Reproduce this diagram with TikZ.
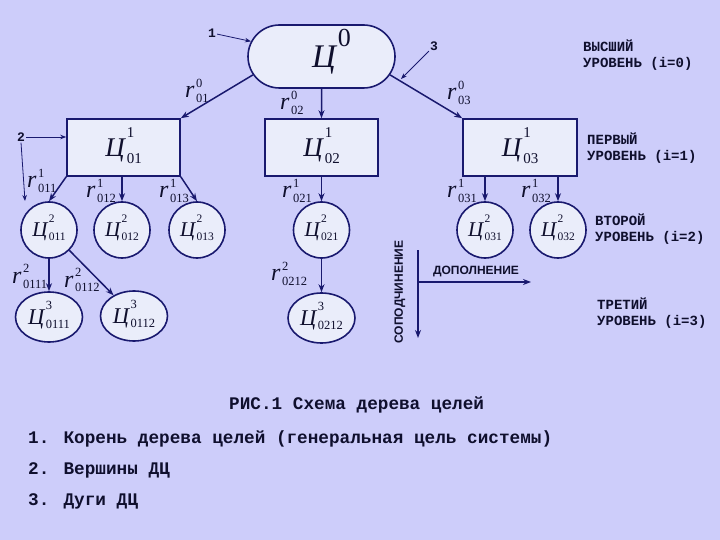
\documentclass[tikz,border=0pt]{standalone}
\usepackage{fontspec}
\setmainfont{Liberation Serif}
\newfontfamily\mono{Liberation Mono}
\newfontfamily\arialf{Liberation Sans}
\usetikzlibrary{shapes.misc,shapes.geometric,arrows.meta}
\definecolor{bg}{RGB}{205,205,250}
\definecolor{nodefill}{RGB}{234,237,250}
\definecolor{navy}{RGB}{25,25,110}
\definecolor{ink}{RGB}{15,15,45}
% goal labels
\newcommand\Gz{\mbox{\hspace*{20pt}\raisebox{0pt}[\height][0pt]{\fontsize{33}{33}\selectfont\itshape Ц}\kern2pt\raisebox{21pt}[0pt][0pt]{\fontsize{26}{26}\selectfont 0}}}
\newcommand\Go[2]{\mbox{\raisebox{0pt}[\height][0pt]{\fontsize{27}{27}\selectfont\itshape Ц}\kern2pt\fontsize{15}{15}\selectfont\rlap{\raisebox{19pt}[0pt][0pt]{#1}}\raisebox{-7pt}[0pt][0pt]{#2}}}
\newcommand\Gt[2]{\mbox{\raisebox{0pt}[\height][0pt]{\fontsize{21}{21}\selectfont\itshape Ц}\kern1.5pt\fontsize{11.5}{11.5}\selectfont\rlap{\raisebox{14pt}[0pt][0pt]{#1}}\raisebox{-4pt}[0pt][0pt]{#2}}}
\newcommand\Gh[2]{\mbox{\raisebox{0pt}[\height][0pt]{\fontsize{22.5}{22.5}\selectfont\itshape Ц}\kern1.5pt\fontsize{12.5}{12.5}\selectfont\rlap{\raisebox{15pt}[0pt][0pt]{#1}}\raisebox{-4.5pt}[0pt][0pt]{#2}}}
\newcommand\Rl[2]{\mbox{{\fontsize{24}{24}\selectfont\itshape r}\kern1.5pt\fontsize{12.5}{12.5}\selectfont\rlap{\raisebox{10pt}{#1}}\raisebox{-5pt}{#2}}}
\begin{document}
\begin{tikzpicture}[x=1pt,y=-1pt,
  arc/.style={draw=navy, line width=1.5pt, -{Stealth[length=8pt,width=6pt]}},
  thinarc/.style={draw=navy, line width=0.8pt, -{Stealth[length=6pt,width=4.5pt]}},
  shp/.style={draw=navy, line width=1.6pt, fill=nodefill, inner sep=0pt, text=ink},
  box/.style={shp, rectangle, minimum width=113pt, minimum height=57pt},
  circ/.style={shp, circle, minimum size=56pt},
  ell/.style={shp, ellipse, minimum width=67pt, minimum height=50pt},
  rlab/.style={anchor=base west, inner sep=0pt, text=ink},
  lvl/.style={font=\mono\bfseries\fontsize{14}{16.5}\selectfont, align=left, anchor=west, inner sep=0pt, text=ink},
  note/.style={font=\mono\bfseries\fontsize{13}{13}\selectfont, inner sep=1pt, text=ink},
  captext/.style={font=\mono\bfseries\fontsize{17.7}{17.7}\selectfont, anchor=base west, inner sep=0pt, text=ink},
  axislab/.style={font=\arialf\bfseries\fontsize{12}{12}\selectfont, inner sep=0pt, text=ink}
]
\fill[bg] (0,0) rectangle (720,540);
\useasboundingbox (0,0) rectangle (720,540);

% nodes
\node[shp, rounded rectangle, minimum width=147pt, minimum height=63pt] (root) at (321.5,56.5) {\Gz};
\node[box] (c01) at (123.5,147.5) {\Go{1}{01}};
\node[box] (c02) at (321.5,147.5) {\Go{1}{02}};
\node[box, minimum width=114pt] (c03) at (520,147.5) {\Go{1}{03}};

\node[circ] (c011) at (49,230) {\Gt{2}{011}};
\node[circ] (c012) at (122,230) {\Gt{2}{012}};
\node[circ] (c013) at (197,230) {\Gt{2}{013}};
\node[circ] (c021) at (321.5,230) {\Gt{2}{021}};
\node[circ] (c031) at (485,230) {\Gt{2}{031}};
\node[circ] (c032) at (558,230) {\Gt{2}{032}};

\node[ell] (c0111) at (49,317) {\Gh{3}{0111}};
\node[ell] (c0112) at (134,316) {\Gh{3}{0112}};
\node[ell] (c0212) at (321.5,318) {\Gh{3}{0212}};

% arcs
\draw[arc] (root.195) -- (c01.north east);
\draw[arc] (root) -- (c02);
\draw[arc] (root.-15) -- (c03.north west);

\draw[arc] (c01.south west) -- (c011.north);
\draw[arc] (c012.north |- c01.south) -- (c012.north);
\draw[arc] (c01.south east) -- (c013.north);
\draw[arc] (c02) -- (c021);
\draw[arc] (c031.north |- c03.south) -- (c031.north);
\draw[arc] (c032.north |- c03.south) -- (c032.north);

\draw[arc] (c011) -- (c0111);
\draw[arc] (c011.south east) -- (c0112);
\draw[arc] (c021) -- (c0212);

% arc labels
\node[rlab] (r01) at (185,98) {\Rl{0}{01}};
\node[rlab] (r02) at (280,110) {\Rl{0}{02}};
\node[rlab] (r03) at (447,100) {\Rl{0}{03}};
\node[rlab] (r011) at (27,188) {\Rl{1}{011}};
\node[rlab] (r012) at (86,198) {\Rl{1}{012}};
\node[rlab] (r013) at (159,198) {\Rl{1}{013}};
\node[rlab] (r021) at (282,198) {\Rl{1}{021}};
\node[rlab] (r031) at (447,198) {\Rl{1}{031}};
\node[rlab] (r032) at (521,198) {\Rl{1}{032}};
\node[rlab] (r0111) at (12,283) {\Rl{2}{0111}};
\node[rlab] (r0112) at (64,287) {\Rl{2}{0112}};
\node[rlab] (r0212) at (271,280) {\Rl{2}{0212}};

% annotations
\node[note] (n1) at (212,33) {1};
\node[note] (n2) at (21,137) {2};
\node[note] (n3) at (434,46) {3};
\coordinate (p2) at (25,201);
\coordinate (p3) at (401,79);
\draw[thinarc] (n1) -- (root);
\draw[thinarc] (n2) -- (n2 -| c01.west);
\draw[thinarc] (n2.south) -- (p2);
\draw[thinarc] (n3) -- (p3);

% level labels
\node[lvl] (L0) at (583,55) {ВЫСШИЙ\\УРОВЕНЬ (i=0)};
\node[lvl] (L1) at (587,148) {ПЕРВЫЙ\\УРОВЕНЬ (i=1)};
\node[lvl] (L2) at (595,229) {ВТОРОЙ\\УРОВЕНЬ (i=2)};
\node[lvl] (L3) at (597,313) {ТРЕТИЙ\\УРОВЕНЬ (i=3)};

% legend axes
\coordinate (vtop) at (418,250);
\coordinate (vbot) at (418,338);
\coordinate (hl) at (418,282);
\coordinate (hr) at (531,282);
\draw[arc, line width=1.3pt] (vtop) -- (vbot);
\draw[arc, line width=1.3pt] (hl) -- (hr);
\node[axislab] (dop) at (476,272) {ДОПОЛНЕНИЕ};
\node[axislab, rotate=90] (sop) at (400,292) {СОПОДЧИНЕНИЕ};

% caption
\node[captext] (t0) at (229,409) {РИС.1 Схема дерева целей};
\node[captext] (t1) at (28,443) {1. Корень дерева целей (генеральная цель системы)};
\node[captext] (t2) at (28,474) {2. Вершины ДЦ};
\node[captext] (t3) at (28,505) {3. Дуги ДЦ};
\end{tikzpicture}
\end{document}
